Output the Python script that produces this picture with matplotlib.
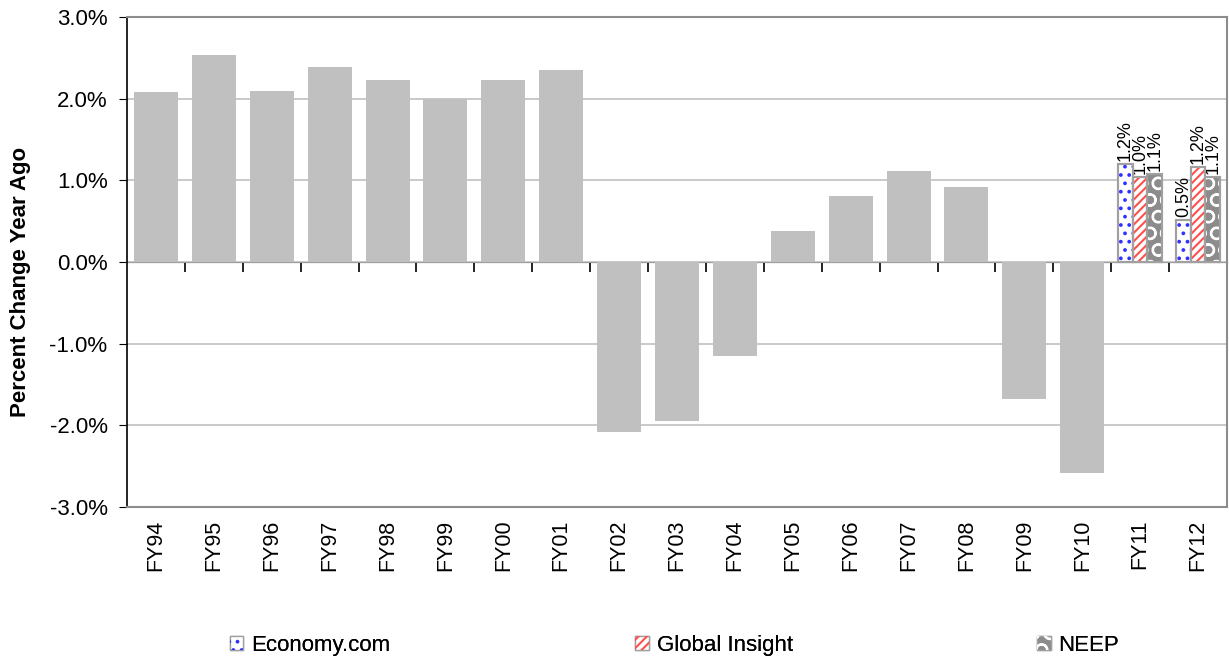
import numpy as np
import matplotlib.pyplot as plt
from matplotlib.patches import Patch
from matplotlib.ticker import FuncFormatter, NullFormatter

plt.rcParams['font.family'] = ['Liberation Sans', 'DejaVu Sans']
plt.rcParams['hatch.linewidth'] = 1.5

years = ["FY94", "FY95", "FY96", "FY97", "FY98", "FY99", "FY00", "FY01", "FY02", "FY03",
         "FY04", "FY05", "FY06", "FY07", "FY08", "FY09", "FY10", "FY11", "FY12"]
history = [2.08, 2.54, 2.10, 2.39, 2.23, 2.00, 2.23, 2.35, -2.08, -1.95,
           -1.15, 0.38, 0.81, 1.12, 0.92, -1.68, -2.58]
forecast_years = ["FY11", "FY12"]
economy_com = [1.20, 0.52]
global_insight = [1.04, 1.16]
neep = [1.08, 1.04]
economy_labels = ["1.2%", "0.5%"]
global_labels = ["1.0%", "1.2%"]
neep_labels = ["1.1%", "1.1%"]
sources = ["Economy.com", "Global Insight", "NEEP"]

fig = plt.figure(figsize=(12.29, 6.58), dpi=100)
ax = fig.add_axes([127/1229, 1-507/658, 1100/1229, 490/658])

x = np.arange(len(years))
ax.bar(x[:len(history)], history, width=0.76, color='#c0c0c0', zorder=2)

fx = np.array([years.index(y) for y in forecast_years])
w = 0.253
series = [
    (economy_com, economy_labels, 'white', '#3030ff', '..', -w),
    (global_insight, global_labels, 'white', '#ff5050', '////', 0),
    (neep, neep_labels, '#8c8c8c', 'white', 'O', w),
]
handles = []
for vals, labs, fc, hc, hatch, off in series:
    ax.bar(fx + off, vals, width=w, color=fc, edgecolor='#a0a0a0', lw=1.5, zorder=2)
    ax.bar(fx + off, vals, width=w, color='none', edgecolor=hc, lw=0, hatch=hatch, zorder=3)
    ax.bar(fx + off, vals, width=w, color='none', edgecolor='#a0a0a0', lw=1.5, zorder=4)
    for xi, v, lab in zip(fx + off, vals, labs):
        ax.annotate(lab, (xi, v), xytext=(0, 2), textcoords='offset points',
                    rotation=90, ha='center', va='bottom', fontsize=13)
    handles.append((Patch(facecolor=fc, edgecolor='#a0a0a0'),
                    Patch(facecolor='none', edgecolor=hc, lw=0, hatch=hatch)))

ax.set_xlim(-0.5, len(years) - 0.5)
ax.set_ylim(-3, 3)
ax.set_yticks(np.arange(-3, 3.1, 1))
ax.yaxis.set_major_formatter(FuncFormatter(lambda v, p: f"{v:.1f}%"))
ax.set_xticks(x)
ax.set_xticklabels(years, rotation=90, fontsize=15.5)
ax.tick_params(axis='x', length=0, pad=9)
ax.tick_params(axis='y', labelsize=16, length=6, direction='out', pad=8)
ax.grid(axis='y', color='#c0c0c0', lw=1.2, zorder=0)
ax.set_ylabel("Percent Change Year Ago", fontsize=16, fontweight='bold')
ax.yaxis.set_label_coords(-0.087, 0.46)

for s in ['top', 'right', 'bottom']:
    ax.spines[s].set_color('#8c8c8c')
    ax.spines[s].set_linewidth(1.5)
ax.spines['left'].set_linewidth(1.2)

# zero axis with ticks between categories
sec = ax.secondary_xaxis(0.5)
sec.set_xticks(np.arange(0.5, len(years) - 1, 1))
sec.xaxis.set_major_formatter(NullFormatter())
sec.xaxis.set_ticks_position('bottom')
sec.tick_params(axis='x', length=7, width=1.2, direction='out', top=False)
sec.spines['bottom'].set_linewidth(1.2)

legend_x = [0.187, 0.517, 0.844]
for h, name, lx in zip(handles, sources, legend_x):
    leg = fig.legend([h], [name], loc='center left', bbox_to_anchor=(lx, 0.019),
                     frameon=False, fontsize=16, handlelength=0.6, handleheight=0.6,
                     handletextpad=0.35, borderaxespad=0, borderpad=0)
    fig.add_artist(leg)

fig.savefig("out.png", dpi=100)
